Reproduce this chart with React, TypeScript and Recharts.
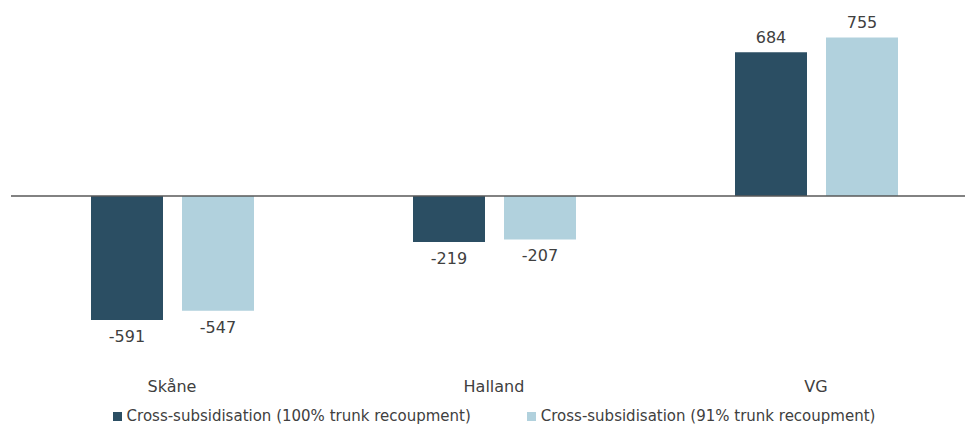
import React from "react";
import { BarChart, Bar, XAxis, YAxis, ReferenceLine, LabelList, Legend } from "recharts";

const categories = ["Skåne", "Halland", "VG"];
const full = [-591, -219, 684];
const partial = [-547, -207, 755];
const seriesNames = [
  "Cross-subsidisation (100% trunk recoupment)",
  "Cross-subsidisation (91% trunk recoupment)",
];
const colors = ["#2b4e63", "#b1d1dd"];

const data = categories.map((c, i) => ({ name: c, full: full[i], partial: partial[i] }));

const FONT = "'DejaVu Sans', sans-serif";
const TEXT = "#404040";

const ValueLabel = (props: any) => {
  const { x, y, width, height, value } = props;
  const top = Math.min(y, y + height);
  const bottom = Math.max(y, y + height);
  const cx = x + width / 2;
  const ty = value >= 0 ? top - 9.5 : bottom + 22;
  return (
    <text x={cx} y={ty} textAnchor="middle" fill={TEXT} fontSize={16} fontFamily={FONT}>
      {value}
    </text>
  );
};

const CatTick = (props: any) => {
  const { x, y, payload } = props;
  return (
    <text x={x} y={y + 20} textAnchor="middle" fill={TEXT} fontSize={16} fontFamily={FONT}>
      {payload.value}
    </text>
  );
};

const LegendContent = () => (
  <div style={{ display: "flex", justifyContent: "center", fontFamily: FONT, fontSize: 15, lineHeight: "16px", color: TEXT, whiteSpace: "nowrap" }}>
    {seriesNames.map((n, i) => (
      <div key={n} style={{ display: "flex", alignItems: "center", marginLeft: i === 0 ? 0 : 56 }}>
        <span style={{ display: "inline-block", width: 9, height: 9, background: colors[i], marginRight: 5 }} />
        <span>{n}</span>
      </div>
    ))}
  </div>
);

export default function App() {
  return (
    <div style={{ position: "absolute", left: 0, top: 0, width: 965, height: 425, overflow: "hidden", background: "#fff" }}>
      <BarChart
        width={980}
        height={425}
        data={data}
        margin={{ top: 28, right: 3, bottom: 31, left: 11 }}
        barSize={72}
        barGap={19}
      >
        <YAxis hide domain={[-800, 800]} />
        <XAxis dataKey="name" axisLine={false} tickLine={false} height={30} tick={<CatTick />} interval={0} />
        <ReferenceLine y={0} stroke="#595959" strokeWidth={1.5} />
        <Legend
          verticalAlign="middle"
          align="center"
          content={<LegendContent />}
          wrapperStyle={{ top: 408, left: 11, width: 966 }}
        />
        <Bar dataKey="full" name={seriesNames[0]} fill={colors[0]} isAnimationActive={false}>
          <LabelList dataKey="full" content={<ValueLabel />} />
        </Bar>
        <Bar dataKey="partial" name={seriesNames[1]} fill={colors[1]} isAnimationActive={false}>
          <LabelList dataKey="partial" content={<ValueLabel />} />
        </Bar>
      </BarChart>
    </div>
  );
}
